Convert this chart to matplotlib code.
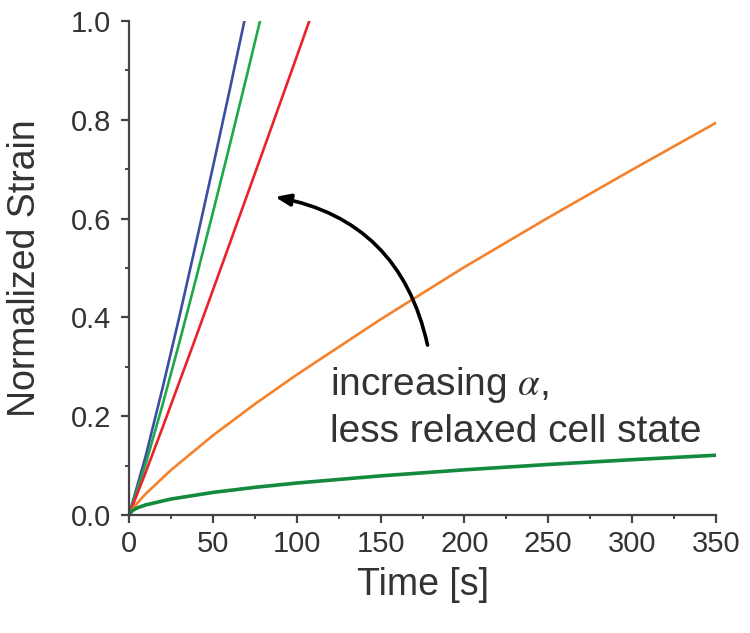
import matplotlib
matplotlib.use('Agg')
import matplotlib.pyplot as plt
from matplotlib.ticker import MultipleLocator, FormatStrFormatter

plt.rcParams['font.family'] = ['Liberation Sans', 'DejaVu Sans']
plt.rcParams['mathtext.fontset'] = 'stix'

# curves (time in s, normalized strain)
t_blue = [0, 10, 20, 30, 40, 50, 60, 68.8]
y_blue = [0, 0.120, 0.257, 0.401, 0.551, 0.704, 0.860, 1.0]
t_green = [0, 10, 20, 30, 40, 50, 60, 70, 78.1]
y_green = [0, 0.104, 0.223, 0.349, 0.479, 0.612, 0.748, 0.886, 1.0]
t_red = [0, 10, 20, 40, 60, 80, 100, 107.5]
y_red = [0, 0.087, 0.177, 0.361, 0.549, 0.738, 0.928, 1.0]

t_long = [0, 2, 5, 10, 25, 50, 75, 100, 150, 200, 250, 300, 350]
y_orange = [0, 0.0115, 0.0244, 0.043, 0.091, 0.161, 0.2245, 0.284, 0.396, 0.502, 0.602, 0.699, 0.794]
y_dkgreen = [0, 0.009, 0.0145, 0.0205, 0.0323, 0.0457, 0.056, 0.0647, 0.0792, 0.0915, 0.1023, 0.112, 0.121]

txt = '#333333'

fig = plt.figure(figsize=(7.5, 6.33), dpi=100)
ax = fig.add_axes([0.172, 0.1864, 0.7827, 0.7804])

ax.plot(t_blue, y_blue, color='#3b4ea3', lw=1.9)
ax.plot(t_green, y_green, color='#1fa84a', lw=1.9)
ax.plot(t_red, y_red, color='#e8232a', lw=1.9)
ax.plot(t_long, y_orange, color='#f5822a', lw=1.9)
ax.plot(t_long, y_dkgreen, color='#138a3e', lw=2.6)

ax.set_xlim(0, 350)
ax.set_ylim(0, 1.0)
ax.xaxis.set_major_locator(MultipleLocator(50))
ax.xaxis.set_minor_locator(MultipleLocator(25))
ax.yaxis.set_major_locator(MultipleLocator(0.2))
ax.yaxis.set_minor_locator(MultipleLocator(0.1))
ax.yaxis.set_major_formatter(FormatStrFormatter('%.1f'))

for s in ['top', 'right']:
    ax.spines[s].set_visible(False)
for s in ['left', 'bottom']:
    ax.spines[s].set_color('#444444')
    ax.spines[s].set_linewidth(1.6)
ax.tick_params(which='major', direction='out', length=6, width=1.6, color='#444444',
               labelsize=21, labelcolor=txt)
ax.tick_params(axis='x', which='major', pad=5)
ax.tick_params(axis='y', which='major', pad=7)
ax.tick_params(which='minor', direction='out', length=3, width=1.4, color='#444444')

ax.set_xlabel('Time [s]', fontsize=27, color=txt, labelpad=6)
ax.set_ylabel('Normalized Strain', fontsize=27, color=txt, labelpad=20)

ax.annotate('', xy=(87, 0.644), xytext=(178, 0.344),
            arrowprops=dict(arrowstyle='-|>,head_length=0.9,head_width=0.35', color='black',
                            lw=2.6, connectionstyle='arc3,rad=0.33', shrinkA=0, shrinkB=0))

ax.text(120, 0.243, r'increasing $\alpha$,', fontsize=28, color=txt, va='baseline')
ax.text(120, 0.148, 'less relaxed cell state', fontsize=28, color=txt, va='baseline')

fig.savefig('out.png', dpi=100)
